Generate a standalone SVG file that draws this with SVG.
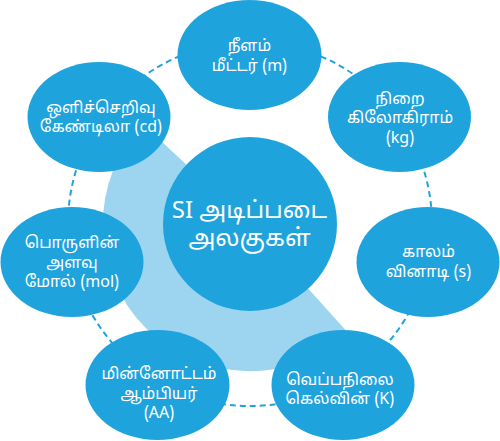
<svg xmlns="http://www.w3.org/2000/svg" width="500" height="441" viewBox="0 0 500 441">
<style>
.node{fill:#1fa3dd;}
.t{fill:#ffffff;font-family:"Noto Sans Tamil","Nirmala UI","Latha","Noto Sans",sans-serif;font-size:16px;text-anchor:middle;}
.c{font-size:24px;}
.conn{fill:none;stroke:#1fa3dd;stroke-width:2;stroke-dasharray:6 4;}
</style>
<rect width="500" height="441" fill="#ffffff"/>
<g id="connectors">
<circle class="conn" cx="250" cy="224" r="182"/>
</g>
<path id="sector" d="M250,224 L348.4,333.2 A147,147 0 0 1 142.5,123.7 Z" fill="#9dd5f0"/>
<g id="center">
<circle class="node" cx="250" cy="224" r="87"/>
<text class="t c" x="249.5" y="218">SI அடிப்படை</text>
<text class="t c" x="249.5" y="246">அலகுகள்</text>
</g>
<g id="node-length">
<ellipse class="node" cx="249.5" cy="55" rx="72" ry="55"/>
<text class="t" x="249.5" y="51">நீளம்</text>
<text class="t" x="249.5" y="70.5">மீட்டர் (m)</text>
</g>
<g id="node-mass">
<ellipse class="node" cx="399.5" cy="117" rx="71.5" ry="55"/>
<text class="t" x="400" y="103.5">நிறை</text>
<text class="t" x="400" y="123">கிலோகிராம்</text>
<text class="t" x="400" y="142.5">(kg)</text>
</g>
<g id="node-time">
<ellipse class="node" cx="428" cy="262" rx="71.5" ry="55"/>
<text class="t" x="428.5" y="257">காலம்</text>
<text class="t" x="428.5" y="276.5">வினாடி (s)</text>
</g>
<g id="node-temperature">
<ellipse class="node" cx="343" cy="385" rx="71.5" ry="55"/>
<text class="t" x="340" y="384.5">வெப்பநிலை</text>
<text class="t" x="340" y="404">கெல்வின் (K)</text>
</g>
<g id="node-current">
<ellipse class="node" cx="157.5" cy="385" rx="72" ry="55"/>
<text class="t" x="159" y="379">மின்னோட்டம்</text>
<text class="t" x="159" y="398.5">ஆம்பியர்</text>
<text class="t" x="159" y="418">(AA)</text>
</g>
<g id="node-amount">
<ellipse class="node" cx="72" cy="262" rx="71.5" ry="55"/>
<text class="t" x="72" y="248">பொருளின்</text>
<text class="t" x="72" y="267.5">அளவு</text>
<text class="t" x="72" y="287">மோல் (mol)</text>
</g>
<g id="node-luminous">
<ellipse class="node" cx="99" cy="117" rx="71.5" ry="55"/>
<text class="t" x="101" y="112.5">ஒளிச்செறிவு</text>
<text class="t" x="101" y="132">கேண்டிலா (cd)</text>
</g>
</svg>
